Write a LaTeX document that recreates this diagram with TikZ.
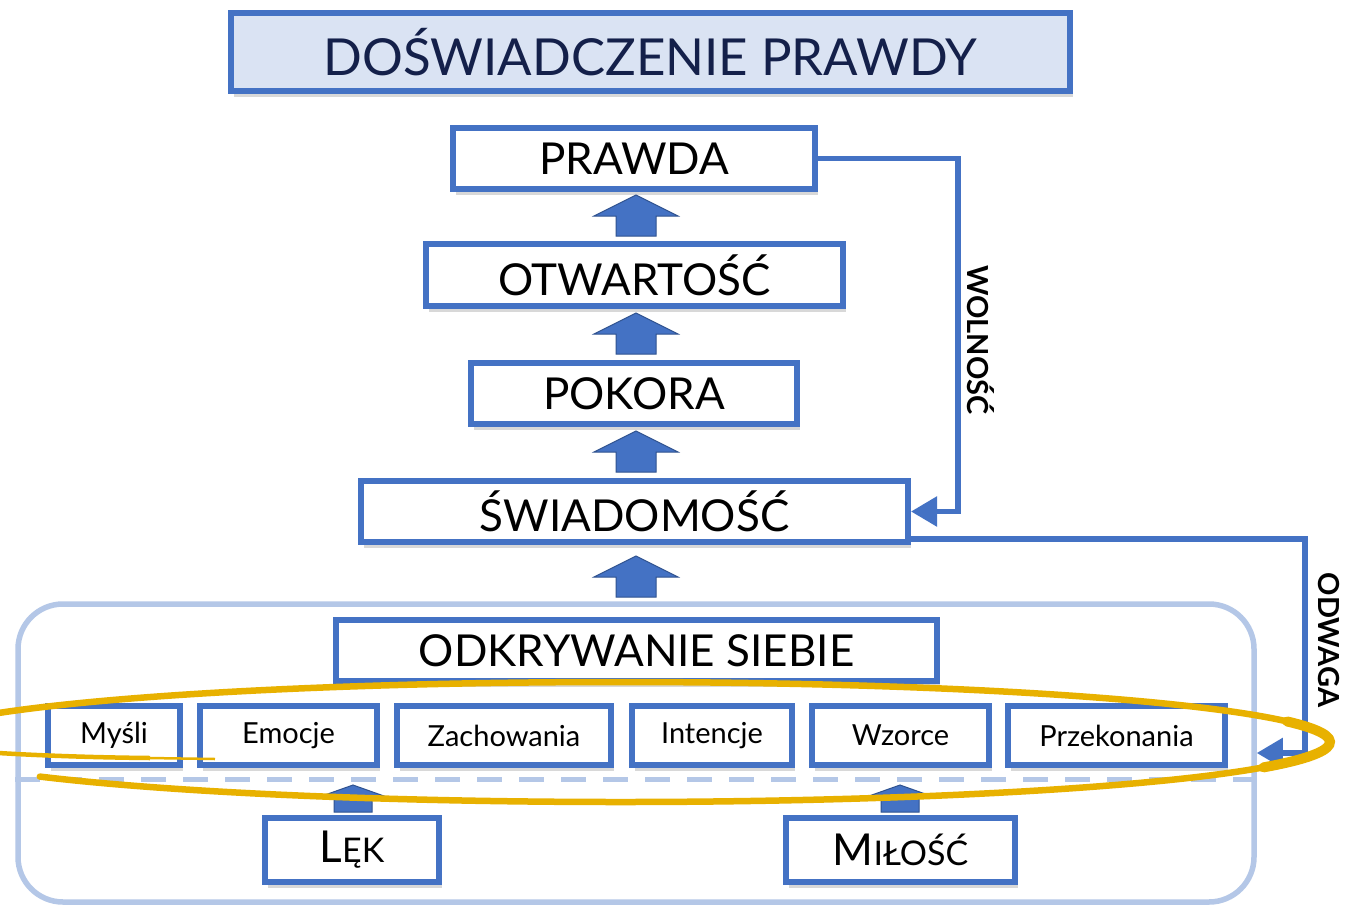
\documentclass[tikz,border=0pt]{standalone}
\usepackage{fontspec}
\setmainfont{Lato}
\usetikzlibrary{shadows,arrows.meta,calc}
\definecolor{accent}{HTML}{4472C4}
\definecolor{accentdark}{HTML}{2F528F}
\definecolor{pale}{HTML}{B4C7E7}
\definecolor{titlefill}{HTML}{DAE3F3}
\definecolor{gold}{HTML}{E8B100}
\definecolor{navy}{HTML}{14204A}
\newcommand\fbig{\fontsize{44}{50}\selectfont}
\newcommand\fsc{\fontsize{34}{40}\selectfont}
\newcommand\fsmall{\fontsize{29}{34}\selectfont}
\newcommand\blockup[6]{%
  \draw[barrow] (#1,#2) -- (#1+#4,#2+#6) -- (#1+#5,#2+#6) -- (#1+#5,#3)
    -- (#1-#5,#3) -- (#1-#5,#2+#6) -- (#1-#4,#2+#6) -- cycle;}
\tikzset{
  box/.style={draw=accent, line width=6pt, fill=white, inner sep=0pt,
    drop shadow={shadow xshift=3pt, shadow yshift=-6pt, opacity=0.3}},
  bigtxt/.style={font=\fbig},
  smalltxt/.style={font=\fsmall},
  barrow/.style={fill=accent, draw=accentdark, line width=1pt, line join=miter},
  conn/.style={draw=accent, line width=5.5pt, -{Triangle[length=26pt,width=29pt]}},
  lbl/.style={font=\fontsize{29}{34}\selectfont\bfseries, rotate=-90},
  goldline/.style={draw=gold, line width=6.5pt, line cap=round},
}
\begin{document}
\begin{tikzpicture}[x=1pt,y=-1pt]
\useasboundingbox (0,0) rectangle (1351,907);
\fill[white] (0,0) rectangle (1351,907);

% large rounded frame
\node[draw=pale, line width=5.5pt, rounded corners=45pt, minimum width=1236pt,
  minimum height=298pt, inner sep=0pt] (bigbox) at (636,753) {};
\draw[pale, line width=5pt, dash pattern=on 25pt off 17pt] (bigbox.west |- 0,779) -- (bigbox.east |- 0,779);

% title
\node[box, fill=titlefill, minimum width=839pt, minimum height=78pt,
  font=\fontsize{51}{58}\selectfont, text=navy] (title) at (650.5,52) {DOŚWIADCZENIE PRAWDY};

% main column
\node[box, bigtxt, minimum width=362pt, minimum height=61pt] (prawda) at (634,158.5) {PRAWDA};
\node[box, bigtxt, minimum width=417pt, minimum height=62pt] (otw) at (634.5,275) {OTWARTOŚĆ};
\node[box, bigtxt, minimum width=326pt, minimum height=61pt] (pokora) at (634,393.5) {POKORA};
\node[box, bigtxt, minimum width=547pt, minimum height=61pt] (swiad) at (634.5,511.5) {ŚWIADOMOŚĆ};
\node[box, bigtxt, minimum width=601pt, minimum height=61pt] (odkr) at (636.5,650.5) {ODKRYWANIE SIEBIE};

% small row
\node[box, smalltxt, minimum width=132pt, minimum height=59pt] (mysli) at (114,735.5) {Myśli};
\node[box, smalltxt, minimum width=177pt, minimum height=59pt] (emocje) at (288.5,735.5) {Emocje};
\node[box, smalltxt, minimum width=214pt, minimum height=59pt] (zach) at (504,735.5) {Zachowania};
\node[box, smalltxt, minimum width=160pt, minimum height=59pt] (int) at (712,735.5) {Intencje};
\node[box, smalltxt, minimum width=177pt, minimum height=59pt] (wzorce) at (900.5,735.5) {Wzorce};
\node[box, smalltxt, minimum width=217pt, minimum height=59pt] (przek) at (1116.5,735.5) {Przekonania};

% bottom
\node[box, minimum width=174pt, minimum height=64pt] (lek) at (352,850) {\fbig L\fsc ĘK};
\node[box, minimum width=229pt, minimum height=64pt] (milosc) at (900.5,850) {\fbig M\fsc IŁOŚĆ};

% block arrows
\blockup{636}{195}{236}{42}{20}{21}
\blockup{636}{313}{354}{42}{20}{21}
\blockup{636}{431}{472}{42}{20}{21}
\blockup{636}{556}{597}{42}{20}{21}
\blockup{353}{785}{812}{31}{19}{11}
\blockup{900}{785}{812}{31}{19}{11}

% connectors
\coordinate (wx) at (958,0);
\draw[conn] (prawda.east) -- (prawda.east -| wx) |- (swiad.east);
\coordinate (ox) at (1305,0);
\coordinate (ostart) at ([yshift=6pt]swiad.south east);
\draw[conn] (ostart) -- (ostart -| ox) |- (bigbox.east);

\node[lbl] (wol) at (981,340) {WOLNOŚĆ};
\node[lbl] (odw) at (1329,640) {ODWAGA};

% gold loop
\begin{scope}
\clip (0,0) rectangle (1351,907);
\draw[goldline] (620,742) ++(144.8:710 and 60)
  arc[start angle=144.8, end angle=-180, x radius=710, y radius=60];
\draw[gold, line width=10pt, line cap=round] (620,742) ++(25:710 and 60)
  arc[start angle=25, end angle=-20, x radius=710, y radius=60];
\draw[gold, line width=4.5pt] (-90,742) .. controls (-80,750) and (40,757) .. (150,758);
\draw[gold, line width=2.5pt] (148,758) -- (215,759);
\end{scope}
\end{tikzpicture}
\end{document}
